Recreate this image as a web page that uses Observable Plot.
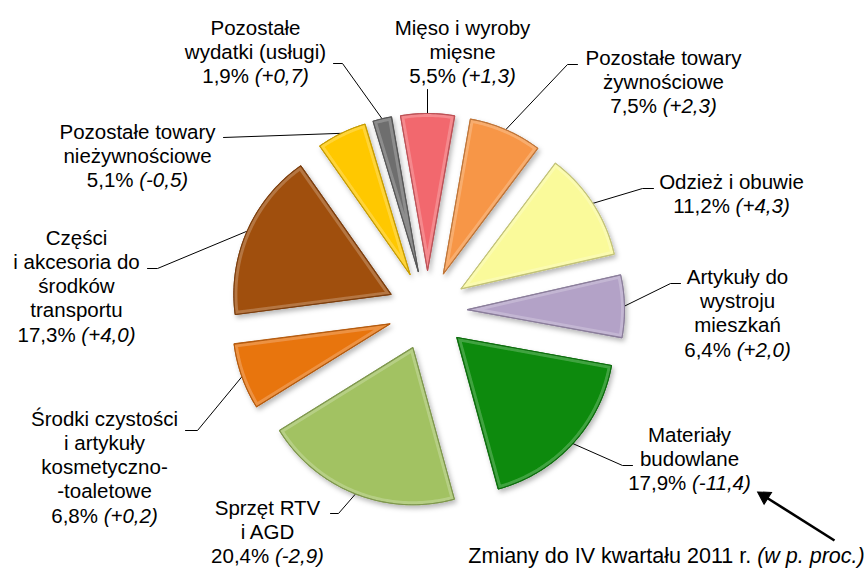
<!DOCTYPE html>
<html><head><meta charset="utf-8">
<script src="https://cdn.jsdelivr.net/npm/d3@7"></script>
<script src="https://cdn.jsdelivr.net/npm/@observablehq/plot@0.6"></script>
<style>
html,body{margin:0;padding:0;background:#fff;}
#chart{width:867px;height:569px;}
</style>
</head><body><div id="chart"></div>
<script>
// ---- data (slice order, clockwise from top) ----
const categories = [
  "Mięso i wyroby mięsne",
  "Pozostałe towary żywnościowe",
  "Odzież i obuwie",
  "Artykuły do wystroju mieszkań",
  "Materiały budowlane",
  "Sprzęt RTV i AGD",
  "Środki czystości i artykuły kosmetyczno-toaletowe",
  "Części i akcesoria do środków transportu",
  "Pozostałe towary nieżywnościowe",
  "Pozostałe wydatki (usługi)"
];
const labelLines = [
  ["Mięso i wyroby", "mięsne"],
  ["Pozostałe towary", "żywnościowe"],
  ["Odzież i obuwie"],
  ["Artykuły do", "wystroju", "mieszkań"],
  ["Materiały", "budowlane"],
  ["Sprzęt RTV", "i AGD"],
  ["Środki czystości", "i artykuły", "kosmetyczno-", "-toaletowe"],
  ["Części", "i akcesoria do", "środków", "transportu"],
  ["Pozostałe towary", "nieżywnościowe"],
  ["Pozostałe", "wydatki (usługi)"]
];
const shares  = [5.5, 7.5, 11.2, 6.4, 17.9, 20.4, 6.8, 17.3, 5.1, 1.9];
const changes = [1.3, 2.3, 4.3, 2.0, -11.4, -2.9, 0.2, 4.0, -0.5, 0.7];
const colors  = ["#F2686E", "#F79646", "#FAFA9A", "#B3A2C7", "#0B8A0B", "#A2C262", "#E8740F", "#A0500F", "#FFC800", "#6E6E6E"];
const captionMain = "Zmiany do IV kwartału 2011 r. ";
const captionNote = "(w p. proc.)";

// ---- layout (pixels) ----
const W = 867, H = 569;
const cx = 427, cy = 310, R = 157, EX = 40;
const labelPos = [[462,51],[663,81],[731,193],[737,312],[689,458],[267,531],[104,466],[76,285],[137,155],[255,51]];
const leaderPts = [
  [[427,89]],
  [[577,64],[567,64]],
  [[653,188],[642,188]],
  [[680,283],[670,283]],
  [[632,465],[622,465]],
  [[330,513],[338,513]],
  [[185,430],[197,430]],
  [[147,268],[157,268]],
  [[223,137]],
  [[333,63],[342,63]]
];
const captionPos = [666, 556];
const arrowPos = {x1: 834, y1: 540, x2: 758, y2: 492};

// ---- derived ----
const fmt = v => v.toFixed(1).replace(".", ",");
const sgn = v => (v > 0 ? "+" : v < 0 ? "-" : "") + fmt(Math.abs(v));
const a0 = -shares[0] / 100 * Math.PI;
const arcs = d3.pie().sort(null).startAngle(a0).endAngle(a0 + 2 * Math.PI)(shares);

const slicePts = arcs.flatMap((a, i) => {
  const mid = (a.startAngle + a.endAngle) / 2;
  const tx = cx + EX * Math.sin(mid), ty = cy - EX * Math.cos(mid);
  const pts = [{i, x: tx, y: ty, fill: colors[i]}];
  const n = Math.max(10, Math.ceil((a.endAngle - a.startAngle) / (Math.PI / 180)));
  for (let k = 0; k <= n; k++) {
    const t = a.startAngle + (a.endAngle - a.startAngle) * k / n;
    pts.push({i, x: tx + R * Math.sin(t), y: ty - R * Math.cos(t), fill: colors[i]});
  }
  return pts;
});

const leaders = arcs.flatMap((a, i) => {
  const mid = (a.startAngle + a.endAngle) / 2;
  const pts = leaderPts[i].map(([x, y]) => ({i, x, y}));
  pts.push({i, x: cx + (EX + R) * Math.sin(mid), y: cy - (EX + R) * Math.cos(mid)});
  return pts;
});

const labels = categories.map((c, i) => ({
  x: labelPos[i][0], y: labelPos[i][1],
  text: [...labelLines[i], `${fmt(shares[i])}% §(${sgn(changes[i])})`].join("\n")
}));

// arrow: shaft + filled triangular head
const adx = arrowPos.x2 - arrowPos.x1, ady = arrowPos.y2 - arrowPos.y1, alen = Math.hypot(adx, ady);
const ux = adx / alen, uy = ady / alen;
const headR = 5.2, headOff = 7.0;
const arrowHead = [{x: arrowPos.x2 - ux * headOff, y: arrowPos.y2 - uy * headOff, rot: Math.atan2(ux, -uy) * 180 / Math.PI}];
const arrowShaft = [{x1: arrowPos.x1, y1: arrowPos.y1, x2: arrowHead[0].x, y2: arrowHead[0].y}];

const font = "'Liberation Sans', Arial, sans-serif";
const chart = Plot.plot({
  width: W, height: H, margin: 0,
  x: {domain: [0, W], range: [0, W], axis: null},
  y: {domain: [0, H], range: [0, H], axis: null},
  color: {type: "identity"},
  style: {fontFamily: font, background: "#fff"},
  marks: [
    Plot.line(leaders, {x: "x", y: "y", z: "i", stroke: "#000", strokeWidth: 1, curve: "linear"}),
    Plot.line(slicePts, {x: "x", y: "y", z: "i", fill: "fill", stroke: d => d3.color(d.fill).darker(0.7).formatHex(), strokeWidth: 1, curve: "linear-closed", ariaDescription: "slices"}),
    Plot.text(labels, {x: "x", y: "y", text: "text", fontSize: 20.5, lineHeight: 1.18, lineAnchor: "middle", textAnchor: "middle", fill: "#000", ariaDescription: "labels"}),
    Plot.text([captionMain + "§" + captionNote], {x: () => captionPos[0], y: () => captionPos[1], text: d => d, fontSize: 21.5, textAnchor: "middle", fill: "#000", ariaDescription: "labels"}),
    Plot.link(arrowShaft, {x1: "x1", y1: "y1", x2: "x2", y2: "y2", stroke: "#000", strokeWidth: 2.6}),
    Plot.dot(arrowHead, {x: "x", y: "y", r: headR, symbol: "triangle", rotate: "rot", fill: "#000", stroke: "#000", strokeWidth: 1})
  ]
});
document.getElementById("chart").appendChild(chart);

// ---- styling touches: shadow, bevel highlight, italic changes ----
const svg = d3.select(chart);
const defs = svg.insert("defs", ":first-child");
const f = defs.append("filter").attr("id", "shadow").attr("x", "-20%").attr("y", "-20%").attr("width", "140%").attr("height", "140%");
f.append("feDropShadow").attr("dx", 2).attr("dy", 3).attr("stdDeviation", 2.5).attr("flood-color", "#000").attr("flood-opacity", 0.28);
const sliceG = svg.select("g[aria-description=slices]");
sliceG.attr("filter", "url(#shadow)");
sliceG.selectAll("path").each(function(_, k) {
  const p = d3.select(this);
  const d = p.attr("d");
  defs.append("clipPath").attr("id", "clip" + k).append("path").attr("d", d);
  sliceG.append("path").attr("d", d).attr("fill", "none").attr("stroke", "#fff")
    .attr("stroke-width", 7).attr("stroke-opacity", 0.22).attr("clip-path", `url(#clip${k})`);
  sliceG.append("path").attr("d", d).attr("fill", "none").attr("stroke", p.attr("stroke"))
    .attr("stroke-width", 1.1);
});
// the part after "§" is set in italics (changes in percentage points)
svg.selectAll("g[aria-description=labels] text").each(function() {
  const nodes = this.querySelector("tspan") ? Array.from(this.querySelectorAll("tspan")) : [this];
  for (const node of nodes) {
    const t = node.textContent;
    const idx = t.indexOf("§");
    if (idx >= 0) {
      node.textContent = "";
      const el = d3.select(node);
      el.append("tspan").text(t.slice(0, idx));
      el.append("tspan").attr("font-style", "italic").text(t.slice(idx + 1));
    }
  }
});
</script>
</body></html>
